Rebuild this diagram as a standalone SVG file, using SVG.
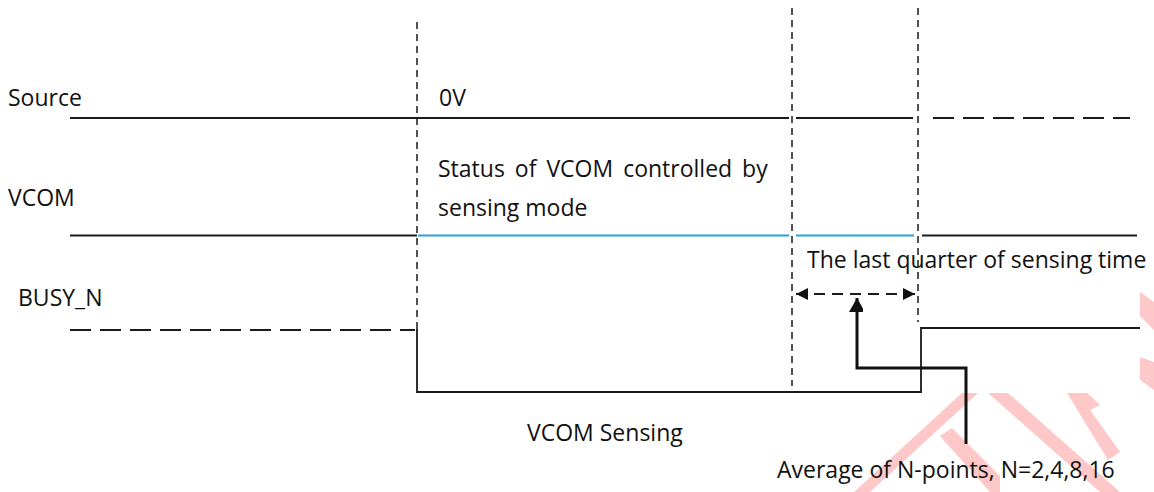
<svg xmlns="http://www.w3.org/2000/svg" width="1154" height="492" viewBox="0 0 1154 492">
<defs>
<style>
text{font-family:"Open Sans","Liberation Sans",sans-serif;font-size:23px;fill:#111}
.sig{stroke:#1a1a1a;stroke-width:1.8;fill:none}
.sigd{stroke:#1a1a1a;stroke-width:2.2;fill:none;stroke-dasharray:21 9}
.blue{stroke:#27a2dd;stroke-width:2.2;fill:none}
.vdash{stroke:#1a1a1a;stroke-width:1.5;fill:none;stroke-dasharray:7 5}
.wm{fill:#ffc8c8}
</style>
<marker id="ah" viewBox="0 0 10 10" refX="10" refY="5" markerWidth="13" markerHeight="12" markerUnits="userSpaceOnUse" orient="auto-start-reverse">
<path d="M0,0 L10,5 L0,10 z" fill="#111"/>
</marker>
<marker id="ahb" viewBox="0 0 16 14" refX="14" refY="8" markerWidth="16" markerHeight="14" markerUnits="userSpaceOnUse" orient="auto">
<path d="M0,0 L14,8 L0,16 z" fill="#111"/>
</marker>
</defs>
<rect width="1154" height="492" fill="#fff"/>

<g id="watermark">
<polygon class="wm" points="962,393 978,393 870,492 854,492"/>
<polygon class="wm" points="940,436 952,428 1000,476 1000,492 990,492"/>
<polygon class="wm" points="988,393 1008,393 1120,492 1100,492"/>
<polygon class="wm" points="1067,393 1087,393 1100,405 1090,410 1120,452 1108,460"/>
<polygon class="wm" points="1140,292 1154,302 1154,330 1140,316"/>
<polygon class="wm" points="1140,357 1154,362 1154,390 1140,380"/>
</g>

<g id="guides">
<line class="vdash" x1="417" y1="22" x2="417" y2="330"/>
<line class="vdash" x1="792" y1="8" x2="792" y2="386"/>
<line class="vdash" x1="918" y1="8" x2="918" y2="322"/>
</g>

<g id="source">
<text x="8" y="106">Source</text>
<line class="sig" x1="70" y1="118" x2="789" y2="118"/>
<line class="sig" x1="796" y1="118" x2="913" y2="118"/>
<line class="sigd" x1="933" y1="118" x2="1130" y2="118"/>
<text x="439" y="106">0V</text>
</g>

<g id="vcom">
<text x="8" y="206">VCOM</text>
<line class="sig" x1="70" y1="235.5" x2="417" y2="235.5"/>
<line class="blue" x1="418" y1="235.5" x2="789" y2="235.5"/>
<line class="blue" x1="796" y1="235.5" x2="914" y2="235.5"/>
<line class="sig" x1="922" y1="235.5" x2="1137" y2="235.5"/>
<text x="438" y="177" word-spacing="4">Status of VCOM controlled by</text>
<text x="438" y="216">sensing mode</text>
</g>

<g id="busy_n">
<text x="18" y="306">BUSY_N</text>
<line class="sigd" x1="70" y1="330" x2="415" y2="330" stroke-dasharray="3 6 16 14 16 15"/>
<polyline class="sig" stroke-width="2.2" points="417,329 417,392 921,392 921,328 1140,328"/>
<text x="527" y="441">VCOM Sensing</text>
</g>

<g id="connectors">
<line x1="796" y1="294" x2="915" y2="294" stroke="#1a1a1a" stroke-width="2" stroke-dasharray="11 7" marker-start="url(#ah)" marker-end="url(#ah)"/>
<polyline points="966,444 966,368 857,368 857,298" fill="none" stroke="#111" stroke-width="3" marker-end="url(#ahb)"/>
</g>

<g id="annotations">
<text x="807" y="268">The last quarter of sensing time</text>
<text x="777" y="478">Average of N-points, N=2,4,8,16</text>
</g>
</svg>
